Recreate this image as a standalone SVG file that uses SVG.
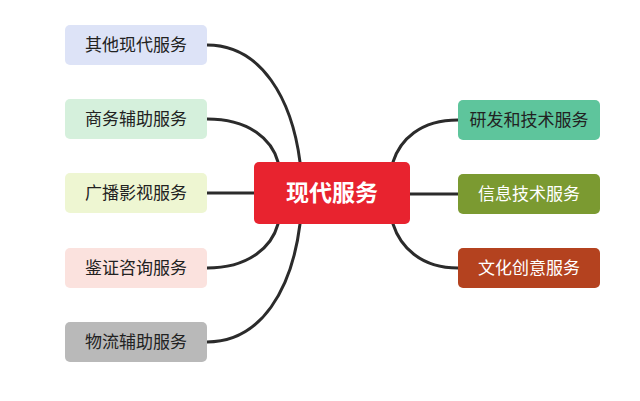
<svg xmlns="http://www.w3.org/2000/svg" width="640" height="401" viewBox="0 0 640 401">
<style>
.c{fill:none;stroke:#2b2b2b;stroke-width:3;stroke-linecap:round}
.t{font-family:"Liberation Sans","Noto Sans CJK SC",sans-serif;font-size:17px;text-anchor:middle;dominant-baseline:central}
.big{font-size:23px;font-weight:bold}
</style>
<rect width="640" height="401" fill="#fff"/>
<g id="connectors">
<path class="c" d="M207,45 C262,45 292,100 300,162"/>
<path class="c" d="M207,119 C250,119 272,140 278,162"/>
<path class="c" d="M207,193 L254,193"/>
<path class="c" d="M207,268 C250,268 272,246 278,224"/>
<path class="c" d="M207,342 C262,342 292,288 300,224"/>
<path class="c" d="M458,120 C420,120 400,140 393,162"/>
<path class="c" d="M458,194 L410,194"/>
<path class="c" d="M458,268 C420,268 400,246 393,224"/>
</g>
<g id="center"><rect x="254" y="162" width="156" height="62" rx="5" fill="#e8232f"/><text class="t big" x="332" y="193" fill="#fff">现代服务</text></g>
<g id="n1"><rect x="65" y="25" width="142" height="40" rx="5" fill="#dde3f7"/><text class="t" x="136" y="45" fill="#222">其他现代服务</text></g>
<g id="n2"><rect x="65" y="99" width="142" height="40" rx="5" fill="#d5f0dc"/><text class="t" x="136" y="119" fill="#222">商务辅助服务</text></g>
<g id="n3"><rect x="65" y="173" width="142" height="40" rx="5" fill="#eef6d2"/><text class="t" x="136" y="193" fill="#222">广播影视服务</text></g>
<g id="n4"><rect x="65" y="248" width="142" height="40" rx="5" fill="#fbe2de"/><text class="t" x="136" y="268" fill="#222">鉴证咨询服务</text></g>
<g id="n5"><rect x="65" y="322" width="142" height="40" rx="5" fill="#b9b9b9"/><text class="t" x="136" y="342" fill="#222">物流辅助服务</text></g>
<g id="n6"><rect x="458" y="100" width="142" height="40" rx="5" fill="#5ec59c"/><text class="t" x="529" y="120" fill="#222">研发和技术服务</text></g>
<g id="n7"><rect x="458" y="174" width="142" height="40" rx="5" fill="#7b9a31"/><text class="t" x="529" y="194" fill="#fff">信息技术服务</text></g>
<g id="n8"><rect x="458" y="248" width="142" height="40" rx="5" fill="#b4421f"/><text class="t" x="529" y="268" fill="#fff">文化创意服务</text></g>
</svg>
